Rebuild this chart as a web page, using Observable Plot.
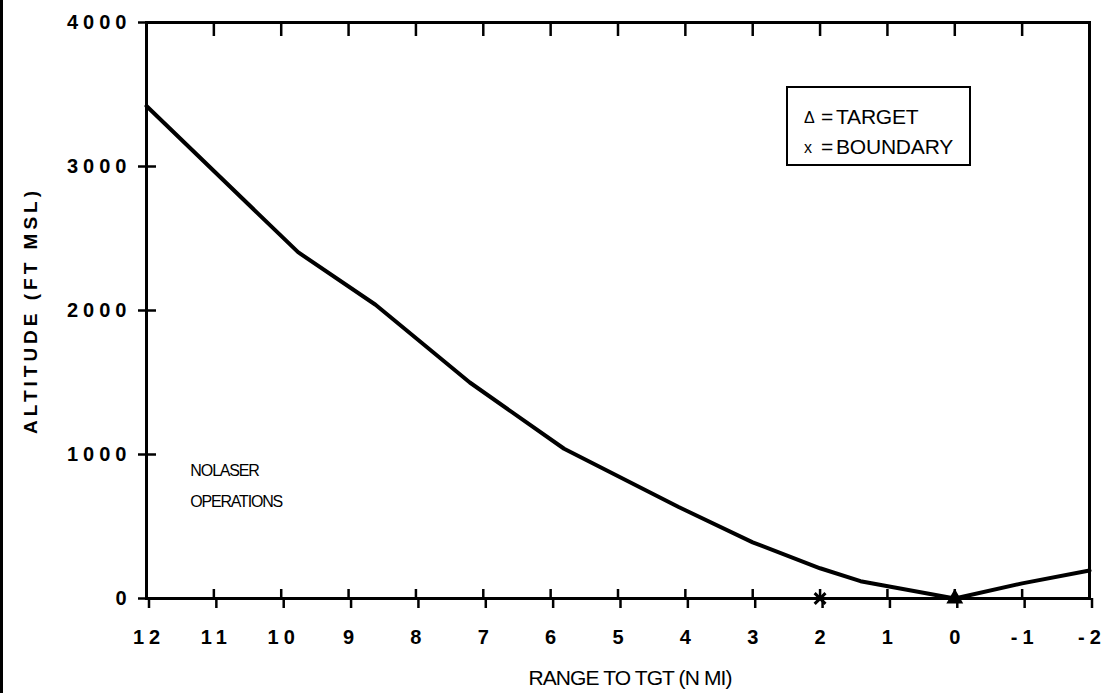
<!DOCTYPE html>
<html>
<head>
<meta charset="utf-8">
<script src="https://cdn.jsdelivr.net/npm/d3@7"></script>
<script src="https://cdn.jsdelivr.net/npm/@observablehq/plot@0.6"></script>
<style>
  html, body { margin: 0; padding: 0; background: #fff; }
  #wrap { position: relative; width: 1107px; height: 693px; overflow: hidden; background: #fff; }
  #edge { position: absolute; left: 0; top: 0; width: 3px; height: 693px; background: #000; }
  #legend {
    position: absolute; left: 786px; top: 86px; width: 185px; height: 80px;
    border: 2.5px solid #000; box-sizing: border-box;
    font-family: "Liberation Sans", Arial, sans-serif; font-size: 21px; color: #000;
  }
  #legend .row { position: absolute; left: 0; width: 180px; height: 26px; line-height: 26px; white-space: nowrap; }
  #legend .sym { position: absolute; left: 16px; top: 0; font-size: 16px; line-height: 28px; }
  #legend .eq { position: absolute; left: 33px; top: 0; }
  #legend .lab { position: absolute; left: 48px; top: 0; letter-spacing: -0.2px; }
  g[aria-label="x-axis tick label"] text,
  g[aria-label="y-axis tick label"] text { letter-spacing: 5px; }
</style>
</head>
<body>
<div id="wrap"><div id="edge"></div></div>
<script>
// ---- data ----
const rangeNmi = [12, 9.75, 8.6, 7.2, 5.8, 4.1, 3.0, 2.0, 1.4, 0, -1, -2];
const altitudeFt = [3420, 2405, 2040, 1500, 1040, 635, 390, 210, 120, 0, 105, 195];
const xTicks = [12, 11, 10, 9, 8, 7, 6, 5, 4, 3, 2, 1, 0, -1, -2];
const xTickLabels = ["12", "11", "10", "9", "8", "7", "6", "5", "4", "3", "2", "1", "0", "-1", "-2"];
const yTicks = [0, 1000, 2000, 3000, 4000];
const yTickLabels = ["0", "1000", "2000", "3000", "4000"];
const markerX = [2, 0];
const markerKind = ["boundary", "target"];
const legendSymbols = ["\u0394", "x"];
const legendLabels = ["TARGET", "BOUNDARY"];
const noteX = [11.35];
const noteY = [815];
const noteText = ["NO LASER\nOPERATIONS"];
const xTitle = "RANGE TO TGT (N MI)";
const yTitle = "ALTITUDE (FT MSL)";

const data = rangeNmi.map((x, i) => ({x, y: altitudeFt[i]}));
const markers = markerX.map((x, i) => ({x, y: 0, kind: markerKind[i]}));
const notes = noteX.map((x, i) => ({x, y: noteY[i], text: noteText[i]}));

const W = 1107, H = 693, mL = 146, mR = 18, mT = 22, mB = 95;
const plotW = W - mL - mR, plotH = H - mT - mB;
const FONT = "Liberation Sans, Arial, sans-serif";

const chart = Plot.plot({
  width: W, height: H,
  marginLeft: mL, marginRight: mR, marginTop: mT, marginBottom: mB,
  style: {background: "#fff", color: "#000", fontFamily: FONT},
  x: {domain: [12, -2], ticks: xTicks},
  y: {domain: [0, 4000], ticks: yTicks},
  marks: [
    Plot.frame({stroke: "#000", strokeWidth: 3}),
    Plot.axisX({ticks: xTicks, tickFormat: d => xTickLabels[xTicks.indexOf(d)], tickSize: 10, tickPadding: 21,
      strokeWidth: 2.5, fontSize: 20, fontWeight: "bold", label: null, dx: 2.5}),
    Plot.axisY({ticks: yTicks, tickFormat: d => yTickLabels[yTicks.indexOf(d)], tickSize: 8, tickPadding: 7,
      strokeWidth: 2.5, fontSize: 20, fontWeight: "bold", label: null}),
    Plot.tickX(xTicks, {x: d => d, insetTop: plotH - 9, stroke: "#000", strokeWidth: 2.5}),
    Plot.tickX(xTicks, {x: d => d, insetBottom: plotH - 14, stroke: "#000", strokeWidth: 2.5}),
    Plot.tickY(yTicks.filter(d => d > 0 && d < 4000), {y: d => d, insetRight: plotW - 10, stroke: "#000", strokeWidth: 2.5}),
    Plot.line(data, {x: "x", y: "y", stroke: "#000", strokeWidth: 4, strokeLinejoin: "round", strokeLinecap: "round"}),
    Plot.dot(markers.filter(d => d.kind === "target"), {x: "x", y: "y", symbol: "triangle", r: 5, fill: "#000", stroke: "#000", strokeWidth: 2}),
    Plot.dot(markers.filter(d => d.kind === "boundary"), {x: "x", y: "y", symbol: "times", r: 5, stroke: "#000", strokeWidth: 3}),
    Plot.text(notes, {x: "x", y: "y", text: "text", textAnchor: "start", lineAnchor: "middle", lineHeight: 1.95,
      fontSize: 16, fill: "#000", fontFamily: FONT}),
    Plot.text([xTitle], {text: d => d, frameAnchor: "bottom", dy: 80, dx: 12, lineAnchor: "middle", textAnchor: "middle",
      fontSize: 21, fill: "#000", fontFamily: FONT}),
    Plot.text([yTitle], {text: d => d, frameAnchor: "left", dx: -116, rotate: -90, lineAnchor: "middle", textAnchor: "middle",
      fontSize: 19, fontWeight: "bold", fill: "#000", fontFamily: FONT})
  ]
});

// styling tweaks
d3.select(chart).selectAll("text, tspan").each(function() {
  const t = this.textContent;
  if (t === yTitle) this.style.letterSpacing = "4px";
  if (t === xTitle) this.style.letterSpacing = "-0.9px";
  if (t === "NO LASER" || t === "OPERATIONS") { this.style.letterSpacing = "-1.2px"; this.style.wordSpacing = "-3px"; }
});

const wrap = document.getElementById("wrap");
wrap.insertBefore(chart, wrap.firstChild);

// legend
const leg = document.createElement("div");
leg.id = "legend";
legendLabels.forEach((lab, i) => {
  const row = document.createElement("div");
  row.className = "row";
  row.style.top = (i === 0 ? 16 : 46) + "px";
  row.innerHTML = `<span class="sym">${legendSymbols[i]}</span><span class="eq">=</span><span class="lab">${lab}</span>`;
  leg.appendChild(row);
});
wrap.appendChild(leg);
</script>
</body>
</html>
